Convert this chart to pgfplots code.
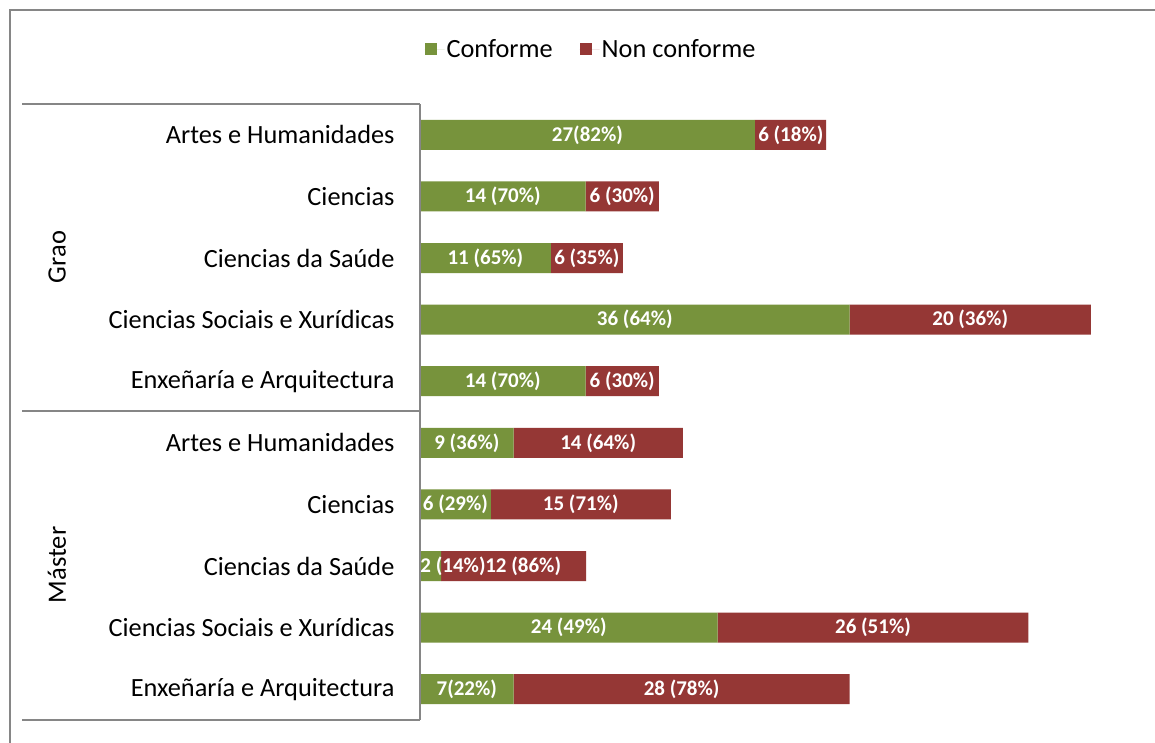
\documentclass[border=0pt]{standalone}
\usepackage{pgfplots}
\pgfplotsset{compat=1.18}
\usepackage{pgfplotstable}
\usepackage{fontspec}
\setmainfont{Carlito}
\definecolor{cgreen}{HTML}{77933C}
\definecolor{cred}{HTML}{953735}
\definecolor{cgray}{HTML}{868686}

\pgfplotstableread{
y g r lg lr tg tr
0 27.9 5.95 13.95 30.9 {27(82\%)} {6 (18\%)}
1 13.8 6.1 6.9 16.85 {14 (70\%)} {6 (30\%)}
2 10.9 6.0 5.45 13.9 {11 (65\%)} {6 (35\%)}
3 35.8 20.1 17.9 45.85 {36 (64\%)} {20 (36\%)}
4 13.8 6.1 6.9 16.85 {14 (70\%)} {6 (30\%)}
5 7.8 14.1 3.9 14.85 {9 (36\%)} {14 (64\%)}
6 5.9 15.0 2.95 13.4 {6 (29\%)} {15 (71\%)}
7 1.75 12.1 2.75 8.6 {2 (14\%)} {12 (86\%)}
8 24.8 25.9 12.4 37.75 {24 (49\%)} {26 (51\%)}
9 7.8 28.0 3.9 21.8 {7(22\%)} {28 (78\%)}
}\data

\pgfplotsset{common/.style={
  at={(420pt,22pt)}, anchor=south west,
  width=708pt, height=616pt, scale only axis,
  xmin=0, xmax=59, ymin=-0.5, ymax=9.5, y dir=reverse,
  axis line style={draw=none}, major tick length=0pt,
  xtick=\empty, clip=false,
}}

\begin{document}
\begin{tikzpicture}
\useasboundingbox (0,0) rectangle (1155pt,742pt);
\fill[white] (0,0) rectangle (1155pt,742pt);
% outer frame
\draw[cgray, line width=2.5pt] (10pt,-10pt) -- (10pt,732pt) -- (1170pt,732pt);

\begin{axis}[common,
  xbar stacked, bar width=30pt,
  ytick={0,...,9},
  yticklabels={Artes e Humanidades, Ciencias, Ciencias da Saúde, Ciencias Sociais e Xurídicas, Enxeñaría e Arquitectura,
               Artes e Humanidades, Ciencias, Ciencias da Saúde, Ciencias Sociais e Xurídicas, Enxeñaría e Arquitectura},
  yticklabel style={font=\fontsize{26.3}{30}\selectfont, anchor=east, xshift=-22pt},
  legend style={at={(0.2415,1.089)}, anchor=center, draw=none, fill=none,
    legend columns=2, font=\fontsize{26.3}{30}\selectfont,
    /tikz/every even column/.append style={column sep=25pt},
    legend cell align=left},
  legend image code/.code={\path (0pt,0pt) -- (20pt,0pt); \fill[#1] (0pt,-6pt) rectangle (12pt,6pt);},
]
\addplot[fill=cgreen, draw=none] table[x=g, y=y] {\data};
\addlegendentry{Conforme}
\addplot[fill=cred, draw=none] table[x=r, y=y] {\data};
\addlegendentry{Non conforme}
\end{axis}

\begin{axis}[common, ytick=\empty,
  nodes near coords style={anchor=center, text=white, font=\bfseries\fontsize{21}{24}\selectfont}]
\addplot[draw=none, nodes near coords, point meta=explicit symbolic] table[x=lg, y=y, meta=tg] {\data};
\addplot[draw=none, nodes near coords, point meta=explicit symbolic] table[x=lr, y=y, meta=tr] {\data};
\end{axis}

% category axis lines
\draw[cgray, line width=1.5pt] (420pt,22pt) -- (420pt,638pt);
\draw[cgray, line width=1.5pt] (22pt,638pt) -- (420pt,638pt);
\draw[cgray, line width=1.5pt] (22pt,331pt) -- (420pt,331pt);
\draw[cgray, line width=1.5pt] (22pt,22pt) -- (420pt,22pt);
% group labels
\node[rotate=90, font=\fontsize{26.5}{30}\selectfont] at (57pt,485pt) {Grao};
\node[rotate=90, font=\fontsize{26.5}{30}\selectfont] at (57pt,177pt) {Máster};
\end{tikzpicture}
\end{document}
